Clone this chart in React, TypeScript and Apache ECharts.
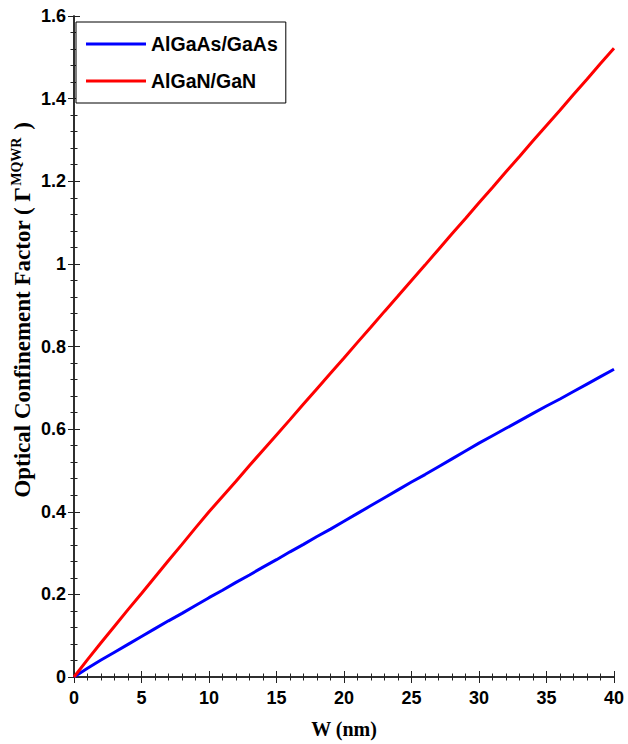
import React, { useEffect, useRef } from "react";
import * as echarts from "echarts";

const widths = [0,1,2,3,4,5,6,7,8,9,10,11,12,13,14,15,16,17,18,19,20,21,22,23,24,25,26,27,28,29,30,31,32,33,34,35,36,37,38,39,40];
const algaas = [0,0.021,0.041,0.06,0.079,0.098,0.117,0.136,0.154,0.173,0.192,0.21,0.229,0.247,0.266,0.284,0.303,0.321,0.34,0.358,0.377,0.396,0.415,0.434,0.453,0.472,0.49,0.509,0.528,0.547,0.566,0.584,0.602,0.62,0.638,0.656,0.673,0.691,0.709,0.727,0.745];
const algan = [0,0.042,0.083,0.123,0.163,0.202,0.242,0.282,0.321,0.361,0.4,0.437,0.474,0.512,0.549,0.586,0.623,0.661,0.698,0.735,0.772,0.81,0.847,0.885,0.922,0.96,0.997,1.035,1.073,1.11,1.148,1.185,1.223,1.26,1.298,1.335,1.372,1.41,1.447,1.485,1.522];
const seriesNames = ["AlGaAs/GaAs", "AlGaN/GaN"];
const xTitle = "W (nm)";
const yTitle = "Optical Confinement Factor ( Γ{sup|MQWR} )";

export default function App() {
  const ref = useRef<HTMLDivElement>(null);
  useEffect(() => {
    const chart = echarts.init(ref.current!, null, { renderer: "svg" });
    const serif = "Liberation Serif, Times New Roman, serif";
    const tickLabel = { color: "#000", fontFamily: "Liberation Sans, Arial, sans-serif", fontWeight: "bold", fontSize: 18 };
    const axisLine = { show: true, lineStyle: { color: "#222", width: 1.5 } };
    const baseX = {
      type: "value", min: 0, max: 40, interval: 5,
      axisLine, splitLine: { show: false },
      axisTick: { show: true, inside: true, length: 6, lineStyle: { color: "#222" } },
    };
    const baseY = {
      type: "value", min: 0, max: 1.6, interval: 0.2,
      axisLine, splitLine: { show: false },
      axisTick: { show: true, inside: true, length: 6, lineStyle: { color: "#222" } },
    };
    const minorX = {
      type: "value", min: 0, max: 40, interval: 1,
      axisLine: { show: false }, splitLine: { show: false }, axisLabel: { show: false },
      axisTick: { show: true, inside: true, length: 3.5, lineStyle: { color: "#222" } },
    };
    const minorY = {
      type: "value", min: 0, max: 1.6, interval: 0.04,
      axisLine: { show: false }, splitLine: { show: false }, axisLabel: { show: false },
      axisTick: { show: true, inside: true, length: 3.5, lineStyle: { color: "#222" } },
    };
    chart.setOption({
      animation: false,
      backgroundColor: "#fff",
      grid: { left: 74, right: 14, top: 16, bottom: 67, containLabel: false, outerBoundsMode: "none" },
      legend: {
        data: seriesNames,
        left: 76, top: 22,
        orient: "vertical",
        icon: "rect",
        itemWidth: 60, itemHeight: 3,
        itemGap: 17,
        padding: [12, 8, 12, 10],
        borderColor: "#000", borderWidth: 1, backgroundColor: "#fff",
        textStyle: { color: "#000", fontFamily: "Liberation Sans, Arial, sans-serif", fontWeight: "bold", fontSize: 19.5 },
      },
      graphic: [
        {
          type: "text", x: 22, y: 310, rotation: Math.PI / 2,
          style: {
            text: yTitle, align: "center", verticalAlign: "middle",
            fill: "#000", font: "bold 23px " + serif,
            rich: {
              sup: { fontSize: 14, fontWeight: "bold", fontFamily: serif, fill: "#000", verticalAlign: "top", padding: [0, 2, 12, 1] },
            },
          },
        },
      ],
      xAxis: [
        { ...baseX, position: "bottom",
          axisLabel: { ...tickLabel, margin: 12, formatter: (v: number) => String(v) },
          name: xTitle, nameLocation: "middle", nameGap: 42,
          nameTextStyle: { color: "#000", fontFamily: serif, fontWeight: "bold", fontSize: 20 } },
        { ...baseX, position: "top", axisLabel: { show: false } },
        { ...minorX, position: "bottom" },
        { ...minorX, position: "top" },
      ],
      yAxis: [
        { ...baseY, position: "left",
          axisLabel: { ...tickLabel, margin: 8, formatter: (v: number) => (v === 0 ? "0" : String(Math.round(v * 10) / 10)) } },
        { ...baseY, position: "right", axisLabel: { show: false } },
        { ...minorY, position: "left" },
        { ...minorY, position: "right" },
      ],
      series: [
        { name: seriesNames[0], type: "line", xAxisIndex: 0, yAxisIndex: 0, data: widths.map((w, i) => [w, algaas[i]]), showSymbol: false, lineStyle: { color: "#0000ff", width: 3 }, itemStyle: { color: "#0000ff" } },
        { name: seriesNames[1], type: "line", xAxisIndex: 0, yAxisIndex: 0, data: widths.map((w, i) => [w, algan[i]]), showSymbol: false, lineStyle: { color: "#ff0000", width: 3 }, itemStyle: { color: "#ff0000" } },
      ],
    });
    return () => chart.dispose();
  }, []);
  return <div ref={ref} style={{ width: 628, height: 744, position: "absolute", left: 0, top: 0 }} />;
}
